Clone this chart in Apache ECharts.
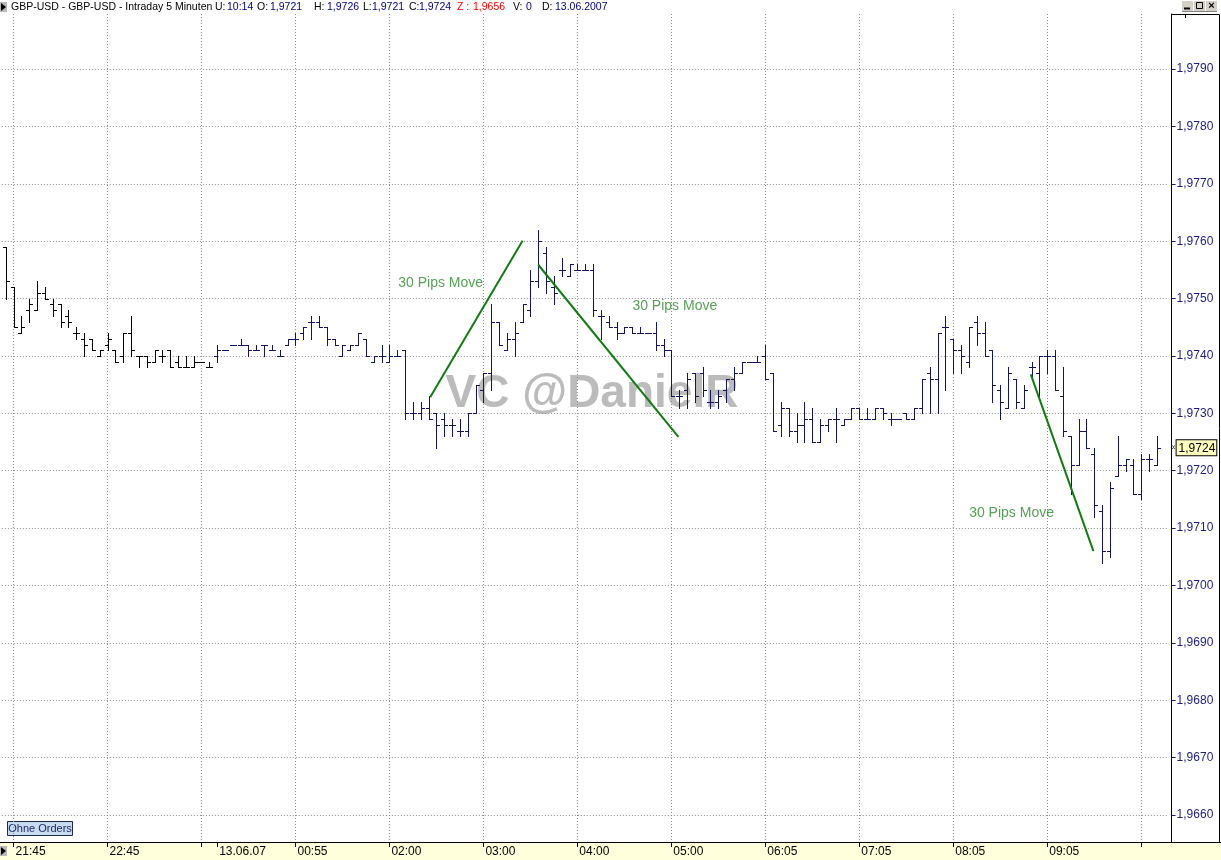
<!DOCTYPE html>
<html><head><meta charset="utf-8">
<script src="https://cdn.jsdelivr.net/npm/echarts@6/dist/echarts.min.js"></script>
<style>html,body{margin:0;padding:0;background:#fff}#c{width:1221px;height:860px}</style>
</head><body><div id="c"></div><script>
// ---------- data ----------
const times = [
'21:40','21:45','21:50','21:55','22:00','22:05','22:10','22:15','22:20','22:25','22:30','22:35','22:40','22:45','22:50','22:55','23:00','23:05','23:10','23:15','23:20','23:25','23:30','23:35','23:40','23:45','23:50',
'00:05','00:10','00:15','00:20','00:25','00:30','00:35','00:40','00:45','00:50','00:55',
'01:00','01:05','01:10','01:15','01:20','01:30','01:35','01:40','01:45','01:50','01:55','02:00',
'02:05','02:10','02:15','02:20','02:25','02:30','02:35','02:40','02:45','02:50','02:55','03:00',
'03:05','03:10','03:15','03:20','03:25','03:30','03:35','03:40','03:45','03:50','03:55','04:00',
'04:05','04:10','04:15','04:20','04:25','04:30','04:35','04:40','04:45','04:50','04:55','05:00',
'05:05','05:10','05:15','05:20','05:25','05:30','05:35','05:40','05:45','05:50','06:00','06:05',
'06:10','06:15','06:20','06:25','06:30','06:35','06:40','06:45','06:50','06:55','07:00','07:05',
'07:10','07:15','07:20','07:25','07:30','07:35','07:40','07:45','07:50','07:55','08:00','08:05',
'08:10','08:15','08:20','08:25','08:30','08:35','08:40','08:45','08:50','08:55','09:00','09:05',
'09:10','09:15','09:20','09:25','09:30','09:35','09:40','09:45','09:50','09:55','10:00','10:05',
'10:10','10:15'];
const opens = [
1.9759,1.9752,1.9744,1.9748,1.9748,1.9751,1.9749,1.9749,1.9747,1.9744,1.9743,1.9743,1.9740,1.9742,1.9741,1.9740,1.9744,1.9740,1.9740,1.9739,
1.9740,1.9741,1.9739,1.9738,1.9738,1.9739,1.9738,1.9740,1.9741,1.9742,1.9742,1.9742,1.9741,1.9742,1.9741,1.9740,1.9742,1.9743,1.9744,1.9746,
1.9746,1.9745,1.9743,1.9740,1.9741,1.9742,1.9743,1.9739,1.9740,1.9739,1.9740,1.9741,1.9730,1.9730,1.9731,1.9730,1.9729,1.9728,1.9727,1.9727,
1.9730,1.9734,1.9737,1.9746,1.9741,1.9743,1.9746,1.9748,1.9753,1.9758,1.9752,1.9755,1.9754,1.9755,1.9755,1.9755,1.9747,1.9746,1.9745,1.9744,
1.9745,1.9744,1.9744,1.9744,1.9742,1.9741,1.9733,1.9734,1.9737,1.9737,1.9732,1.9732,1.9734,1.9736,1.9737,1.9739,1.9739,1.9740,1.9737,1.9728,
1.9731,1.9727,1.9728,1.9729,1.9725,1.9728,1.9729,1.9728,1.9729,1.9731,1.9729,1.9729,1.9731,1.9729,1.9729,1.9730,1.9729,1.9731,1.9737,1.9736,
1.9745,1.9743,1.9741,1.9739,1.9746,1.9744,1.9741,1.9734,1.9731,1.9736,1.9731,1.9738,1.9737,1.9740,1.9740,1.9733,1.9726,1.9721,1.9727,1.9723,
1.9713,1.9706,1.9719,1.9721,1.9721,1.9716,1.9722,1.9721];
const highs = [
1.9759,1.9752,1.9747,1.9750,1.9753,1.9752,1.9750,1.9749,1.9748,1.9745,1.9744,1.9743,1.9741,1.9744,1.9741,1.9744,1.9747,1.9740,1.9740,1.9741,
1.9741,1.9741,1.9740,1.9740,1.9740,1.9739,1.9739,1.9742,1.9741,1.9742,1.9743,1.9742,1.9742,1.9742,1.9742,1.9741,1.9743,1.9744,1.9745,1.9747,
1.9747,1.9745,1.9743,1.9742,1.9742,1.9744,1.9743,1.9740,1.9742,1.9742,1.9741,1.9741,1.9732,1.9732,1.9733,1.9730,1.9730,1.9729,1.9729,1.9730,
1.9735,1.9737,1.9749,1.9746,1.9744,1.9746,1.9749,1.9755,1.9762,1.9759,1.9754,1.9757,1.9756,1.9756,1.9756,1.9756,1.9748,1.9747,1.9746,1.9745,
1.9745,1.9745,1.9744,1.9746,1.9743,1.9741,1.9734,1.9737,1.9737,1.9738,1.9734,1.9734,1.9736,1.9738,1.9739,1.9739,1.9740,1.9742,1.9737,1.9732,
1.9731,1.9730,1.9732,1.9731,1.9729,1.9729,1.9731,1.9729,1.9731,1.9731,1.9731,1.9731,1.9731,1.9730,1.9729,1.9730,1.9731,1.9736,1.9738,1.9744,
1.9747,1.9743,1.9742,1.9745,1.9747,1.9746,1.9741,1.9735,1.9738,1.9736,1.9735,1.9739,1.9740,1.9741,1.9741,1.9738,1.9726,1.9729,1.9729,1.9724,
1.9714,1.9718,1.9726,1.9722,1.9722,1.9723,1.9723,1.9726];
const lows = [
1.9750,1.9745,1.9744,1.9746,1.9748,1.9750,1.9747,1.9745,1.9745,1.9743,1.9740,1.9741,1.9740,1.9741,1.9739,1.9739,1.9740,1.9738,1.9738,1.9739,
1.9739,1.9738,1.9738,1.9738,1.9738,1.9739,1.9738,1.9739,1.9741,1.9742,1.9742,1.9740,1.9741,1.9740,1.9741,1.9740,1.9742,1.9742,1.9743,1.9743,
1.9745,1.9742,1.9742,1.9740,1.9741,1.9742,1.9740,1.9739,1.9739,1.9739,1.9740,1.9729,1.9729,1.9729,1.9729,1.9724,1.9726,1.9726,1.9726,1.9726,
1.9730,1.9732,1.9734,1.9742,1.9741,1.9740,1.9746,1.9747,1.9752,1.9751,1.9749,1.9754,1.9754,1.9755,1.9755,1.9747,1.9743,1.9745,1.9743,1.9744,
1.9744,1.9744,1.9744,1.9741,1.9740,1.9733,1.9731,1.9731,1.9732,1.9733,1.9731,1.9731,1.9732,1.9734,1.9737,1.9739,1.9739,1.9736,1.9727,1.9726,
1.9726,1.9725,1.9725,1.9725,1.9725,1.9727,1.9725,1.9728,1.9729,1.9729,1.9729,1.9729,1.9729,1.9728,1.9729,1.9729,1.9729,1.9730,1.9730,1.9730,
1.9734,1.9737,1.9737,1.9738,1.9742,1.9740,1.9732,1.9729,1.9731,1.9731,1.9731,1.9736,1.9733,1.9737,1.9734,1.9726,1.9716,1.9721,1.9724,1.9712,
1.9704,1.9705,1.9719,1.9720,1.9716,1.9715,1.9720,1.9721];
const closes = [
1.9753,1.9745,1.9745,1.9749,1.9751,1.9750,1.9748,1.9746,1.9746,1.9744,1.9742,1.9741,1.9741,1.9743,1.9739,1.9744,1.9741,1.9740,1.9739,1.9741,
1.9740,1.9738,1.9738,1.9738,1.9739,1.9739,1.9738,1.9741,1.9741,1.9742,1.9742,1.9741,1.9741,1.9742,1.9741,1.9740,1.9743,1.9743,1.9745,1.9746,
1.9745,1.9743,1.9742,1.9742,1.9742,1.9744,1.9740,1.9740,1.9740,1.9740,1.9740,1.9730,1.9730,1.9731,1.9729,1.9728,1.9728,1.9728,1.9727,1.9730,
1.9735,1.9737,1.9746,1.9742,1.9743,1.9744,1.9749,1.9753,1.9760,1.9753,1.9751,1.9755,1.9756,1.9755,1.9755,1.9748,1.9747,1.9745,1.9744,1.9745,
1.9744,1.9744,1.9744,1.9742,1.9741,1.9733,1.9733,1.9736,1.9733,1.9734,1.9732,1.9733,1.9736,1.9737,1.9739,1.9739,1.9739,1.9736,1.9727,1.9731,
1.9727,1.9728,1.9729,1.9725,1.9728,1.9729,1.9729,1.9729,1.9731,1.9729,1.9729,1.9731,1.9730,1.9729,1.9729,1.9729,1.9731,1.9736,1.9736,1.9744,
1.9745,1.9741,1.9740,1.9745,1.9744,1.9740,1.9735,1.9732,1.9737,1.9732,1.9734,1.9738,1.9740,1.9740,1.9734,1.9727,1.9721,1.9727,1.9724,1.9714,
1.9706,1.9717,1.9721,1.9722,1.9716,1.9722,1.9722,1.9724];
const labelTimes = ['21:45','22:45','00:55','02:00','03:00','04:00','05:00','06:05','07:05','08:05','09:05'];
const gridTimes  = ['21:45','22:45','23:45','00:55','02:00','03:00','04:00','05:00','06:05','07:05','08:05','09:05','10:05'];
const dateTime = '00:05';
const dateLabel = '13.06.07';
const priceTicks = [1.966,1.967,1.968,1.969,1.970,1.971,1.972,1.973,1.974,1.975,1.976,1.977,1.978,1.979];
const trendLines = [
  [[54.2, 1.97328], [66.0, 1.97601]],
  [[68.0, 1.97559], [85.9, 1.97259]],
  [[130.9, 1.97368], [138.9, 1.97060]]
];
const notes = [[50.0, 1.97527, '30 Pips Move'], [79.9, 1.97487, '30 Pips Move'], [122.9, 1.97126, '30 Pips Move']];
const header = {symbol: 'GBP-USD - GBP-USD - Intraday 5 Minuten', update: '10:14', z: 1.9656, v: '0', date: '13.06.2007'};

// ---------- helpers ----------
const fmt = v => v.toFixed(4).replace('.', ',');
const N = times.length;
const last = N - 1;
const dayBreak = times.indexOf(dateTime);
const labelSet = new Set(labelTimes);
const gridSet = new Set(gridTimes);
const tickSet = new Set(gridTimes.concat([dateTime]));
const NAVY = '#14145c';
const GREEN = '#147a14';
const FONT = 'Liberation Sans, Arial, sans-serif';

const axisCats = times.concat(['']);  // one empty slot at the right edge
const ohlc = times.map((t, i) => [i, opens[i], highs[i], lows[i], closes[i]]);

const chart = echarts.init(document.getElementById('c'), null, {renderer: 'canvas'});

const titleParts = [
  [11, header.symbol, '#000'],
  [215, 'U:', '#000'], [227, header.update, '#000080'],
  [257, 'O:', '#000'], [270, fmt(opens[last]), '#000080'],
  [314, 'H:', '#000'], [327, fmt(highs[last]), '#000080'],
  [363, 'L:', '#000'], [372, fmt(lows[last]), '#000080'],
  [409, 'C:', '#000'], [419, fmt(closes[last]), '#000080'],
  [457, 'Z :', '#ff0000'], [473, fmt(header.z), '#ff0000'],
  [513, 'V:', '#000'], [526, header.v, '#000080'],
  [542, 'D:', '#000'], [555, header.date, '#000080']
];

const graphics = [
  {type: 'rect', shape: {x: 0, y: 843, width: 1221, height: 17}, style: {fill: '#FFFFDC'}, z: -10, silent: true},
  {type: 'text', x: 592, y: 394, z: -5, silent: true,
   style: {text: 'VC @DanielR', font: 'bold 46px ' + FONT, fill: 'rgba(175,175,175,0.85)', align: 'center', verticalAlign: 'middle'}},
  {type: 'rect', shape: {x: 1171.5, y: 14.5, width: 48, height: 828}, style: {fill: 'none', stroke: '#000', lineWidth: 1}, z: 10, silent: true},
  {type: 'line', shape: {x1: 1185.5, y1: 15, x2: 1185.5, y2: 18}, style: {stroke: '#000', lineWidth: 1}, z: 10},
  {type: 'line', shape: {x1: 0, y1: 842.5, x2: 1221, y2: 842.5}, style: {stroke: '#000', lineWidth: 1}, z: 10},
  {type: 'rect', shape: {x: 0, y: 2, width: 7, height: 10}, style: {fill: '#b8b8b8'}},
  {type: 'polygon', shape: {points: [[1, 3], [6, 7], [1, 11]]}, style: {fill: '#000'}},
  {type: 'rect', shape: {x: 0, y: 846, width: 7, height: 10}, style: {fill: '#b8b8b8'}},
  {type: 'polygon', shape: {points: [[1, 847], [6, 851], [1, 855]]}, style: {fill: '#000'}},
  {type: 'rect', shape: {x: 1182, y: 1, width: 11, height: 10}, style: {fill: '#d4d0c8'}},
  {type: 'rect', shape: {x: 1194, y: 1, width: 11, height: 10}, style: {fill: '#d4d0c8'}},
  {type: 'rect', shape: {x: 1206, y: 1, width: 11, height: 10}, style: {fill: '#d4d0c8'}},
  {type: 'line', shape: {x1: 1184, y1: 8.5, x2: 1190, y2: 8.5}, style: {stroke: '#000', lineWidth: 2}},
  {type: 'rect', shape: {x: 1196.5, y: 2.5, width: 6, height: 6}, style: {fill: 'none', stroke: '#000', lineWidth: 1}},
  {type: 'text', x: 1211.5, y: 6, style: {text: '\u00d7', font: 'bold 11px ' + FONT, fill: '#000', align: 'center', verticalAlign: 'middle'}},
  {type: 'line', shape: {x1: 1182, y1: 11.5, x2: 1217, y2: 11.5}, style: {stroke: '#808080', lineWidth: 1}},
  {type: 'rect', shape: {x: 7.5, y: 821.5, width: 65, height: 14}, style: {fill: '#c9dbef', stroke: '#1a2850', lineWidth: 1}},
  {type: 'text', x: 40, y: 829, style: {text: 'Ohne Orders', font: '11px ' + FONT, fill: '#1a2a66', align: 'center', verticalAlign: 'middle'}}
].concat(titleParts.map(p => ({
  type: 'text', x: p[0], y: 7,
  style: {text: p[1], font: '10.5px ' + FONT, fill: p[2], align: 'left', verticalAlign: 'middle'}
})));

const dotted = {color: '#8a8a8a', width: 1, type: [1, 2]};

const option = {
  backgroundColor: '#fff',
  animation: false,
  textStyle: {fontFamily: FONT},
  grid: {left: 1.8, right: 52.4, top: 14, bottom: 18, containLabel: false},
  xAxis: [{
    type: 'category', data: axisCats, boundaryGap: true,
    axisLine: {show: true, onZero: false, lineStyle: {color: '#000', width: 1}},
    axisTick: {show: true, alignWithLabel: true, length: 5, lineStyle: {color: '#000'},
      interval: (i, v) => tickSet.has(v)},
    axisLabel: {show: true, color: '#000', fontSize: 12, fontFamily: FONT, align: 'left', margin: 4, padding: [0, 0, 0, 2],
      interval: (i, v) => labelSet.has(v) || v === dateTime,
      formatter: v => v === dateTime ? dateLabel : v},
    splitLine: {show: true, alignWithLabel: true, interval: (i, v) => gridSet.has(v), lineStyle: dotted}
  }, {
    type: 'value', min: -0.5, max: N + 0.5, show: false,
    axisLine: {show: false, onZero: false}, axisTick: {show: false}, axisLabel: {show: false}, splitLine: {show: false}
  }],
  yAxis: {
    type: 'value', position: 'right', offset: 3,
    min: 1.96553, max: 1.97996, scale: true,
    axisLine: {show: true, onZero: false, lineStyle: {color: '#000', width: 1}},
    axisTick: {show: true, inside: false, length: 4, lineStyle: {color: '#1a1a70'}, customValues: priceTicks},
    axisLabel: {show: true, color: '#1c1c80', fontSize: 12, fontFamily: FONT, margin: 5, customValues: priceTicks,
      formatter: v => fmt(v)},
    splitLine: {show: true, lineStyle: dotted}
  },
  graphic: graphics,
  series: [
    {
      type: 'custom', name: 'GBP-USD', xAxisIndex: 0, yAxisIndex: 0, z: 5,
      data: ohlc,
      encode: {x: 0, y: [1, 2, 3, 4]},
      renderItem: (params, api) => {
        const i = api.value(0);
        const o = api.coord([i, api.value(1)]);
        const h = api.coord([i, api.value(2)]);
        const l = api.coord([i, api.value(3)]);
        const c = api.coord([i, api.value(4)]);
        const x = Math.round(o[0]) + 0.5;
        const color = i < dayBreak ? '#000000' : NAVY;
        const st = {stroke: color, lineWidth: 1};
        const yo = Math.round(o[1]) + 0.5, yc = Math.round(c[1]) + 0.5;
        const yh = Math.round(h[1]), yl = Math.round(l[1]) + 1;
        return {type: 'group', children: [
          {type: 'line', shape: {x1: x, y1: yh, x2: x, y2: yl}, style: st},
          {type: 'line', shape: {x1: x - 3.5, y1: yo, x2: x, y2: yo}, style: st},
          {type: 'line', shape: {x1: x, y1: yc, x2: x + 3.5, y2: yc}, style: st}
        ]};
      }
    }
  ].concat(trendLines.map((seg, k) => ({
    type: 'line', name: 'trend' + k, xAxisIndex: 1, yAxisIndex: 0, z: 6,
    data: seg, symbol: 'none', silent: true,
    lineStyle: {color: GREEN, width: 2}
  }))).concat([{
    type: 'scatter', name: 'notes', xAxisIndex: 1, yAxisIndex: 0, z: 6,
    data: notes.map(n => [n[0], n[1], n[2]]),
    symbol: 'circle', symbolSize: 2, itemStyle: {color: 'rgba(0,0,0,0)'}, silent: true,
    label: {show: true, position: 'right', distance: 0, color: '#2a8a2a', fontSize: 14, fontFamily: FONT,
      formatter: p => p.value[2]},
    markLine: {
      silent: true, symbol: ['none', 'none'], animation: false, precision: 4,
      lineStyle: {color: 'rgba(0,0,0,0)', width: 1, type: 'solid'},
      label: {show: true, position: 'end', distance: 2,
        formatter: () => '{a|\u00ab}{b|' + fmt(closes[last]) + '}',
        rich: {
          a: {fontSize: 9, color: '#000', padding: [0, 1, 0, 0]},
          b: {fontSize: 12, fontFamily: FONT, color: '#000', backgroundColor: '#FFFFC0', borderColor: '#000', borderWidth: 1, padding: [2, 1, 1, 2]}
        }},
      data: [{yAxis: closes[last]}]
    }
  }])
};
chart.setOption(option);
</script></body></html>
